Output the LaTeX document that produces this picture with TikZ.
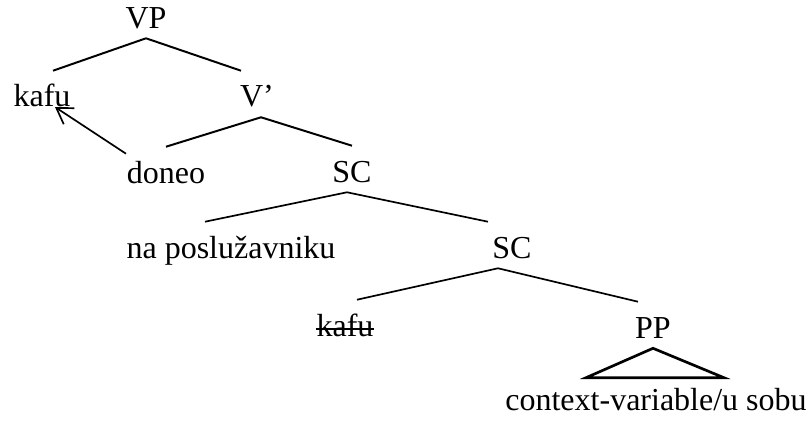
\documentclass[tikz,border=0pt]{standalone}
\usepackage{fontspec}
\setmainfont{Liberation Serif}
\usetikzlibrary{arrows.meta}

\begin{document}
\begin{tikzpicture}

\tikzset{word/.style = {anchor=base, inner sep=0pt, text height=0.9cm, text depth=0.25cm, font=\fontsize{22.76pt}{27pt}\selectfont}}
\tikzset{branch/.style = {line width=1.2pt}}
\tikzset{move/.style = {line width=1.2pt, -{Straight Barb[length=0.38cm, width=0.48cm, line width=1.2pt]}}}
\useasboundingbox (0,0) rectangle (20.25,10.525);
%words
\node[word] (VP) at (3.65,9.825) {VP};
\node[word] (kafu) at (1.05,7.85) {kafu};
\node[word] (V) at (6.425,7.85) {V’};
\node[word] (doneo) at (4.15,5.95) {doneo};
\node[word] (SC) at (8.8,5.975) {SC};
\node[word] (na) at (5.775,4.075) {na poslužavniku};
\node[word] (SCb) at (12.8,4.075) {SC};
\node[word] (kafub) at (8.625,2.125) {kafu};
\node[word] (PP) at (16.325,2.075) {PP};
\node[word] (ctx) at (16.4,0.275) {context-variable/u sobu};
%branches
\draw[branch, line width=1.4pt] (VP.south) -- ([xshift=0.275cm]kafu.north);
\draw[branch, line width=1.4pt] (VP.south) -- ([xshift=-0.4cm]V.north);
\draw[branch, line width=1.4pt] ([xshift=0.1cm]V.south) -- (doneo.north);
\draw[branch, line width=1.4pt] ([xshift=0.1cm]V.south) -- (SC.north);
\draw[branch] ([xshift=-0.125cm]SC.south) -- ([xshift=-0.65cm]na.north);
\draw[branch] ([xshift=-0.125cm]SC.south) -- ([xshift=-0.6cm]SCb.north);
\draw[branch] ([xshift=-0.35cm]SCb.south) -- ([xshift=0.3cm]kafub.north);
\draw[branch] ([xshift=-0.35cm]SCb.south) -- ([xshift=-0.375cm]PP.north);
\draw[line width=1.9pt] (PP.south) -- ([xshift=-1.75cm, yshift=-0.1cm]ctx.north) -- ([xshift=1.7cm, yshift=-0.1cm]ctx.north) -- cycle;
%trace and movement
\draw[line width=1.1pt] ([yshift=0.175cm]kafub.base west) -- ([yshift=0.175cm]kafub.base east);
\draw[move] ([xshift=-1cm, yshift=-0.175cm]doneo.north) -- ([xshift=0.325cm]kafu.base);

\end{tikzpicture}
\end{document}
